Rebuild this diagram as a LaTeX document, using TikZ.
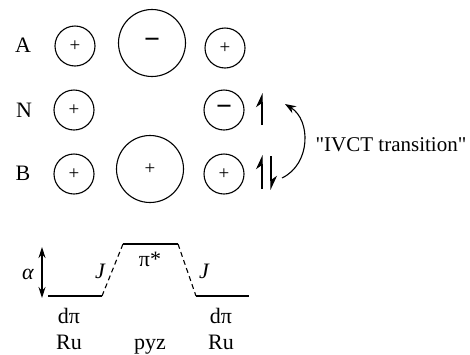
\documentclass[tikz,border=0pt]{standalone}
\usepackage{fontspec}
\setmainfont{Liberation Serif}[Ligatures=TeXOff]
\usetikzlibrary{arrows.meta}
\tikzset{
  lbl/.style={inner sep=0pt, font=\fontsize{22}{26}\selectfont},
  ilbl/.style={inner sep=0pt, font=\fontsize{22}{26}\selectfont\itshape},
  orb/.style={circle, draw, line width=1.1pt, inner sep=0pt, minimum size=40pt},
  bigorb/.style={circle, draw, line width=1.1pt, inner sep=0pt, minimum size=67pt},
  plus/.style={font=\fontsize{19}{20}\selectfont},
  minus/.style={font=\fontsize{28}{28}\selectfont\bfseries},
  spin/.style={line width=1.1pt, -{Stealth[harpoon, length=13pt, width=12pt]}},
  level/.style={line width=1.1pt},
  toplevel/.style={line width=2pt},
  coupling/.style={line width=1.1pt, dash pattern=on 5pt off 3.5pt},
}
\begin{document}
\begin{tikzpicture}[x=1pt, y=-1pt]
\useasboundingbox (0,0) rectangle (470,354);
% row labels
\node[lbl] (labA) at (23,45) {A};
\node[lbl] (labN) at (24,110) {N};
\node[lbl] (labB) at (23,173) {B};
% orbitals
\node[orb, plus]  (A1) at (75,46)  {+};
\node[bigorb, minus] (A2) at (152,43) {−};
\node[orb, plus]  (A3) at (225,48) {+};
\node[orb, plus]  (N1) at (74,110) {+};
\node[orb, minus] (N3) at (224,110) {−};
\node[orb, plus]  (B1) at (74,174) {+};
\node[bigorb, plus] (B2) at (150,169) {+};
\node[orb, plus]  (B3) at (224,174) {+};
% spins
\coordinate (nS) at (262,125);
\coordinate (nE) at (262,93);
\draw[spin] (nS) -- (nE);
\coordinate (bUS) at (262,189);
\coordinate (bUE) at (262,155);
\draw[spin] (bUS) -- (bUE);
\coordinate (bDS) at (271,156);
\coordinate (bDE) at (271,190);
\draw[spin] (bDS) -- (bDE);
% transition arrow
\coordinate (tS) at (282,178);
\coordinate (tE) at (285,104);
\draw[line width=1.1pt, -{Stealth[length=11pt, width=8pt]}] (tS) .. controls (311,164) and (311,120) .. (tE);
\node[inner sep=0pt, font=\fontsize{21}{25}\selectfont] (ivct) at (391,145) {"IVCT transition"};
% energy diagram
\coordinate (L1) at (48,296);
\coordinate (L2) at (102,296);
\coordinate (T1) at (123,244);
\coordinate (T2) at (178,244);
\coordinate (R1) at (196,296);
\coordinate (R2) at (249,296);
\draw[level] (L1) -- (L2);
\draw[coupling] (L2) -- (T1);
\draw[toplevel] (T1) -- (T2);
\draw[coupling] (T2) -- (R1);
\draw[level] (R1) -- (R2);
\coordinate (aT) at (42,247);
\coordinate (aB) at (42,298);
\draw[line width=1.2pt, {Stealth[length=11pt, width=7pt]}-{Stealth[length=11pt, width=7pt]}] (aT) -- (aB);
\node[ilbl] (alpha) at (28,274) {α};
\node[ilbl] (J1) at (100,271) {J};
\node[ilbl] (J2) at (204,271) {J};
\node[lbl] (pistar) at (150,259) {π*};
\node[lbl, anchor=base] (dpiL) at (69,323) {dπ};
\node[lbl, anchor=base] (dpiR) at (221,323) {dπ};
\node[lbl, anchor=base] (RuL) at (69,349) {Ru};
\node[lbl, anchor=base] (pyz) at (150,349) {pyz};
\node[lbl, anchor=base] (RuR) at (221,349) {Ru};
\end{tikzpicture}
\end{document}
